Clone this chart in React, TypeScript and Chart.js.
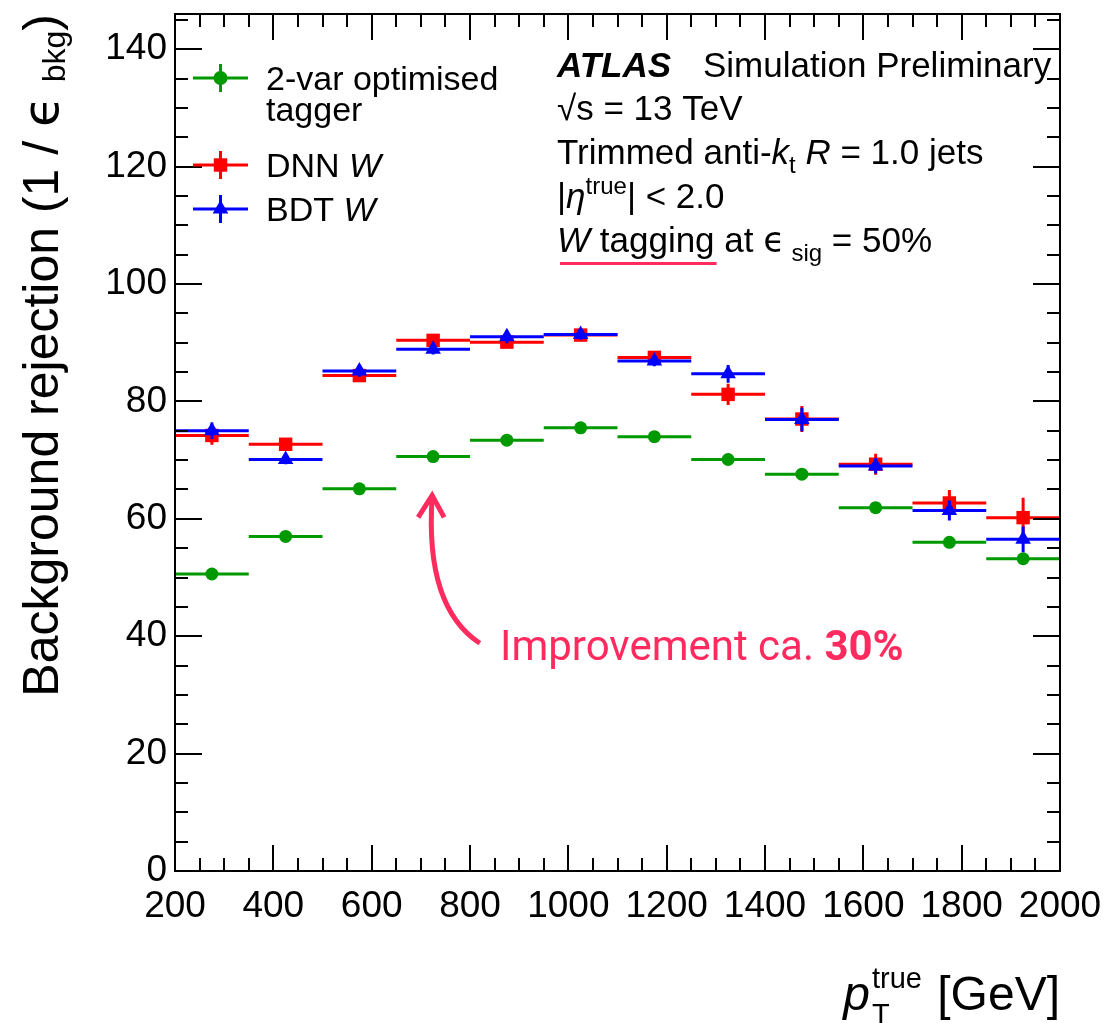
import React, { useEffect, useRef } from "react";
import { Chart, registerables } from "chart.js";

Chart.register(...registerables);

// Jet pT binning [GeV]
const binEdges = [200, 350, 500, 650, 800, 950, 1100, 1250, 1400, 1550, 1700, 1850, 2000];
const binCenters = [275, 425, 575, 725, 875, 1025, 1175, 1325, 1475, 1625, 1775, 1925];

// Background rejection 1/eps_bkg at 50% signal efficiency
const twoVarRejection = [50.6, 57.0, 65.1, 70.6, 73.4, 75.5, 74.0, 70.1, 67.6, 61.9, 56.0, 53.2];
const twoVarError = [0.3, 0.3, 0.4, 0.4, 0.5, 0.5, 0.6, 0.6, 0.7, 0.7, 0.8, 0.9];

const dnnRejection = [74.2, 72.7, 84.4, 90.4, 90.1, 91.3, 87.5, 81.2, 77.0, 69.3, 62.7, 60.2];
const dnnError = [1.6, 0.9, 1.0, 0.9, 1.0, 1.0, 1.0, 1.8, 2.2, 1.8, 2.2, 3.4];

const bdtRejection = [75.0, 70.1, 85.2, 88.9, 91.0, 91.4, 86.9, 84.7, 76.9, 69.0, 61.4, 56.5];
const bdtError = [1.4, 0.8, 1.0, 0.9, 1.1, 0.9, 0.9, 1.5, 2.0, 1.3, 1.7, 2.2];

// Axis ticks
const xTickValues = [200, 400, 600, 800, 1000, 1200, 1400, 1600, 1800, 2000];
const yTickValues = [0, 20, 40, 60, 80, 100, 120, 140];
const xMinorStep = 50;
const yMinorStep = 5;

const FONT = "'Liberation Sans', Arial, Helvetica, sans-serif";
const EPS_FONT = "'DejaVu Sans', sans-serif";
const PINK = "#ff2b5e";
const GREEN = "#009a00";
const RED = "#ff0000";
const BLUE = "#0000ff";

type Run = { t: string; font: string; dy?: number; dx?: number; color?: string };

function runsWidth(ctx: CanvasRenderingContext2D, runs: Run[]) {
  let w = 0;
  for (const r of runs) {
    ctx.font = r.font;
    w += ctx.measureText(r.t).width + (r.dx || 0);
  }
  return w;
}

function drawRuns(
  ctx: CanvasRenderingContext2D,
  runs: Run[],
  x: number,
  y: number,
  align: "left" | "right" = "left"
) {
  ctx.textAlign = "left";
  ctx.textBaseline = "alphabetic";
  let cx = align === "right" ? x - runsWidth(ctx, runs) : x;
  const start = cx;
  for (const r of runs) {
    ctx.font = r.font;
    cx += r.dx || 0;
    if (r.color) ctx.fillStyle = r.color;
    ctx.fillText(r.t, cx, y + (r.dy || 0));
    cx += ctx.measureText(r.t).width;
  }
  return { start, end: cx };
}

function drawMarker(
  ctx: CanvasRenderingContext2D,
  style: string,
  x: number,
  y: number,
  r: number,
  color: string
) {
  ctx.fillStyle = color;
  ctx.beginPath();
  if (style === "circle") {
    ctx.arc(x, y, r, 0, Math.PI * 2);
  } else if (style === "rect") {
    const s = Math.SQRT1_2 * r;
    ctx.rect(x - s, y - s, 2 * s, 2 * s);
  } else {
    ctx.moveTo(x, y - r);
    ctx.lineTo(x + r * 0.866, y + r / 2);
    ctx.lineTo(x - r * 0.866, y + r / 2);
    ctx.closePath();
  }
  ctx.fill();
}

// Horizontal bars span the pT bin, vertical bars show the statistical error
const errorBarPlugin = {
  id: "errorBars",
  beforeDatasetDraw(chart: any, args: any) {
    const ds = chart.data.datasets[args.index];
    const errs: number[] = ds.yErrors;
    const xs = chart.scales.x;
    const ys = chart.scales.y;
    const ctx: CanvasRenderingContext2D = chart.ctx;
    ctx.save();
    ctx.strokeStyle = ds.borderColor;
    ctx.lineWidth = 3;
    ctx.lineCap = "butt";
    ds.data.forEach((p: { x: number; y: number }, i: number) => {
      const x0 = xs.getPixelForValue(binEdges[i]);
      const x1 = xs.getPixelForValue(binEdges[i + 1]);
      const xp = xs.getPixelForValue(p.x);
      const yp = ys.getPixelForValue(p.y);
      const ylo = ys.getPixelForValue(p.y - errs[i]);
      const yhi = ys.getPixelForValue(p.y + errs[i]);
      ctx.beginPath();
      ctx.moveTo(x0, yp);
      ctx.lineTo(x1, yp);
      ctx.moveTo(xp, ylo);
      ctx.lineTo(xp, yhi);
      ctx.stroke();
    });
    ctx.restore();
  },
};

// Frame with inward ticks on all four sides, axis titles, legend and labels
const decorPlugin = {
  id: "decor",
  afterDraw(chart: any) {
    const ctx: CanvasRenderingContext2D = chart.ctx;
    const { left, right, top, bottom } = chart.chartArea;
    const xs = chart.scales.x;
    const ys = chart.scales.y;
    ctx.save();

    // frame
    ctx.strokeStyle = "#000";
    ctx.lineWidth = 2;
    ctx.strokeRect(left, top, right - left, bottom - top);

    // ticks
    ctx.beginPath();
    for (let v = ys.min; v <= ys.max + 1e-9; v += yMinorStep) {
      const y = Math.round(ys.getPixelForValue(v));
      const len = yTickValues.includes(v) ? 27 : 13;
      ctx.moveTo(left, y);
      ctx.lineTo(left + len, y);
      ctx.moveTo(right, y);
      ctx.lineTo(right - len, y);
    }
    for (let v = xs.min; v <= xs.max + 1e-9; v += xMinorStep) {
      const x = Math.round(xs.getPixelForValue(v));
      const len = xTickValues.includes(v) ? 26 : 13;
      ctx.moveTo(x, bottom);
      ctx.lineTo(x, bottom - len);
      ctx.moveTo(x, top);
      ctx.lineTo(x, top + len);
    }
    ctx.stroke();

    ctx.fillStyle = "#000";

    // y-axis title (rotated)
    ctx.save();
    ctx.translate(58, top);
    ctx.rotate(-Math.PI / 2);
    drawRuns(
      ctx,
      [
        { t: "Background rejection (1 / ", font: `50px ${FONT}` },
        { t: "\u03F5", font: `50px ${EPS_FONT}` },
        { t: " ", font: `50px ${FONT}` },
        { t: "bkg", font: `32px ${FONT}`, dy: 7 },
        { t: ")", font: `50px ${FONT}` },
      ],
      0,
      0,
      "right"
    );
    ctx.restore();

    // x-axis title: p_T^true [GeV]
    {
      const big = `48px ${FONT}`;
      const bigIt = `italic 48px ${FONT}`;
      const small = `29px ${FONT}`;
      ctx.font = small;
      const wT = ctx.measureText("T").width;
      const runs: Run[] = [
        { t: "p", font: bigIt },
        { t: "T", font: small, dy: 14, dx: 2 },
        { t: "true", font: small, dy: -22, dx: -wT },
        { t: " [GeV]", font: big, dx: 2 },
      ];
      drawRuns(ctx, runs, right, 1010, "right");
    }

    // legend
    const legendFont = `34px ${FONT}`;
    const legendIt = `italic 34px ${FONT}`;
    const legendItems = [
      { color: GREEN, style: "circle", r: 7, y: 78, lines: [[{ t: "2-var optimised", font: legendFont }], [{ t: "tagger", font: legendFont }]] },
      { color: RED, style: "rect", r: 9.5, y: 165, lines: [[{ t: "DNN ", font: legendFont }, { t: "W", font: legendIt }]] },
      { color: BLUE, style: "triangle", r: 9, y: 209, lines: [[{ t: "BDT ", font: legendFont }, { t: "W", font: legendIt }]] },
    ];
    for (const it of legendItems) {
      ctx.strokeStyle = it.color;
      ctx.lineWidth = 3;
      ctx.beginPath();
      ctx.moveTo(193, it.y);
      ctx.lineTo(248, it.y);
      ctx.moveTo(220.5, it.y - 14);
      ctx.lineTo(220.5, it.y + 14);
      ctx.stroke();
      drawMarker(ctx, it.style, 220.5, it.y, it.r, it.color);
      ctx.fillStyle = "#000";
      it.lines.forEach((ln, k) => drawRuns(ctx, ln as Run[], 266, it.y + 12 + k * 31));
    }

    // ATLAS label block
    const tf = `35px ${FONT}`;
    const tfIt = `italic 35px ${FONT}`;
    const tfSub = `24px ${FONT}`;
    const tx = 557;
    ctx.fillStyle = "#000";
    drawRuns(ctx, [{ t: "ATLAS", font: `italic bold 35px ${FONT}` }], tx, 77);
    drawRuns(ctx, [{ t: "Simulation Preliminary", font: tf }], 703, 77);
    drawRuns(ctx, [{ t: "\u221As = 13 TeV", font: tf }], tx, 120);
    drawRuns(
      ctx,
      [
        { t: "Trimmed anti-", font: tf },
        { t: "k", font: tfIt },
        { t: "t", font: tfSub, dy: 9 },
        { t: " ", font: tf },
        { t: "R", font: tfIt },
        { t: " = 1.0 jets", font: tf },
      ],
      tx,
      164
    );
    drawRuns(
      ctx,
      [
        { t: "|", font: tf },
        { t: "\u03B7", font: tfIt },
        { t: "true", font: tfSub, dy: -14 },
        { t: "| < 2.0", font: tf },
      ],
      tx,
      208
    );
    const tagRuns: Run[] = [
      { t: "W", font: tfIt },
      { t: " tagging", font: tf },
    ];
    const seg = drawRuns(ctx, tagRuns, tx, 252);
    drawRuns(
      ctx,
      [
        { t: " at ", font: tf },
        { t: "\u03F5", font: `35px ${EPS_FONT}` },
        { t: " sig", font: tfSub, dy: 9 },
        { t: " = 50%", font: tf },
      ],
      seg.end,
      252
    );
    ctx.fillStyle = PINK;
    ctx.fillRect(seg.start + 3, 262, seg.end - seg.start - 1, 3);

    // improvement annotation, anchored in data coordinates
    const tipX = xs.getPixelForValue(723);
    const tipY = ys.getPixelForValue(64.0);
    const tailX = xs.getPixelForValue(820);
    const tailY = ys.getPixelForValue(38.8);
    const ctlX = xs.getPixelForValue(708);
    const ctlY = ys.getPixelForValue(45.0);
    ctx.strokeStyle = PINK;
    ctx.lineWidth = 5;
    ctx.lineCap = "butt";
    ctx.lineJoin = "miter";
    ctx.beginPath();
    ctx.moveTo(tailX, tailY);
    ctx.quadraticCurveTo(ctlX, ctlY, tipX, tipY + 2);
    ctx.stroke();
    ctx.beginPath();
    ctx.moveTo(tipX - 14, tipY + 22);
    ctx.lineTo(tipX, tipY);
    ctx.lineTo(tipX + 12, tipY + 22);
    ctx.stroke();

    const aFont = `42px Roboto, 'Noto Sans', sans-serif`;
    const aBold = `bold 42px Roboto, 'Noto Sans', sans-serif`;
    drawRuns(
      ctx,
      [
        { t: "Improvement ca. ", font: aFont, color: PINK },
        { t: "30%", font: aBold, color: PINK },
      ],
      xs.getPixelForValue(861),
      ys.getPixelForValue(36.0)
    );

    ctx.restore();
  },
};

export default function App() {
  const canvasRef = useRef<HTMLCanvasElement | null>(null);

  useEffect(() => {
    const canvas = canvasRef.current;
    if (!canvas) return;
    const toPoints = (vals: number[]) => binCenters.map((x, i) => ({ x, y: vals[i] }));
    const tickFont = { family: FONT, size: 37 };

    const chart = new Chart(canvas, {
      type: "scatter",
      data: {
        datasets: [
          {
            label: "2-var optimised tagger",
            data: toPoints(twoVarRejection),
            yErrors: twoVarError,
            pointStyle: "circle",
            pointRadius: 6.5,
            pointBorderWidth: 0,
            backgroundColor: GREEN,
            borderColor: GREEN,
            order: 3,
          } as any,
          {
            label: "DNN W",
            data: toPoints(dnnRejection),
            yErrors: dnnError,
            pointStyle: "rect",
            pointRadius: 9.5,
            pointBorderWidth: 0,
            backgroundColor: RED,
            borderColor: RED,
            order: 2,
          } as any,
          {
            label: "BDT W",
            data: toPoints(bdtRejection),
            yErrors: bdtError,
            pointStyle: "triangle",
            pointRadius: 9,
            pointBorderWidth: 0,
            backgroundColor: BLUE,
            borderColor: BLUE,
            order: 1,
          } as any,
        ],
      },
      options: {
        animation: false,
        responsive: false,
        devicePixelRatio: 1,
        layout: { padding: { left: 0, top: 14, right: 47, bottom: 0 } },
        plugins: { legend: { display: false }, tooltip: { enabled: false } },
        scales: {
          x: {
            type: "linear",
            min: 200,
            max: 2000,
            grid: { display: false, drawTicks: false },
            border: { display: false },
            ticks: {
              autoSkip: false,
              maxRotation: 0,
              minRotation: 0,
              padding: 14,
              color: "#000",
              font: tickFont,
              callback: (v: any) => String(v),
            },
            afterBuildTicks: (s: any) => {
              s.ticks = xTickValues.map((v) => ({ value: v }));
            },
            afterFit: (s: any) => {
              s.height = 152;
              s.paddingLeft = 0;
              s.paddingRight = 0;
            },
          },
          y: {
            type: "linear",
            min: 0,
            max: 146,
            grid: { display: false, drawTicks: false },
            border: { display: false },
            ticks: {
              padding: 8,
              color: "#000",
              font: tickFont,
              callback: (v: any) => String(v),
            },
            afterBuildTicks: (s: any) => {
              s.ticks = yTickValues.map((v) => ({ value: v }));
            },
            afterFit: (s: any) => {
              s.width = 175;
              s.paddingTop = 0;
              s.paddingBottom = 0;
            },
          },
        },
      } as any,
      plugins: [errorBarPlugin, decorPlugin],
    });
    return () => chart.destroy();
  }, []);

  return (
    <div
      style={{
        position: "fixed",
        left: 0,
        top: 0,
        width: 1107,
        height: 1023,
        background: "#fff",
      }}
    >
      <canvas ref={canvasRef} width={1107} height={1023} style={{ display: "block" }} />
    </div>
  );
}
